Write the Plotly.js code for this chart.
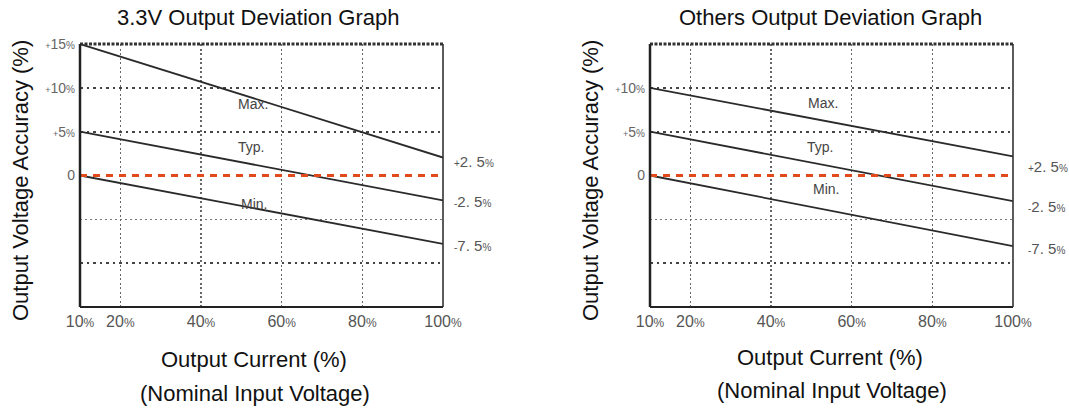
<!DOCTYPE html>
<html>
<head>
<meta charset="utf-8">
<script src="https://cdn.plot.ly/plotly-3.0.1.min.js"></script>
<style>html,body{margin:0;padding:0;background:#fff;}#chart{width:1069px;height:410px;}</style>
</head>
<body>
<div id="chart"></div>
<script>
// ---- data ----
const loadPct = [10, 100];
const left_max = [15, 2.05];
const left_typ = [5, -2.85];
const left_min = [0, -7.8];
const right_max = [10, 2.17];
const right_typ = [5, -2.93];
const right_min = [0, -8.06];
const nominal = [0, 0];

const xTickVals = [10, 20, 40, 60, 80, 100];
const xTickNums = ['10', '20', '40', '60', '80', '100'];
const gridMajorVals = [10, 5, -10];
const gridMinorVals = [-5];
const gridMajorNums = ['+10', '+5', ''];
const leftExtraTickVals = [15, 0];
const leftExtraTickNums = ['+15', '0'];
const rightExtraTickVals = [0];
const rightExtraTickNums = ['0'];
const endLabels = ['+2. 5', '-2. 5', '-7. 5'];
const curveNames = ['Max.', 'Typ.', 'Min.'];
const titles = ['3.3V Output Deviation Graph', 'Others Output Deviation Graph'];
const yTitle = 'Output Voltage Accuracy (%)';
const xTitle1 = 'Output Current (%)';
const xTitle2 = '(Nominal Input Voltage)';

// ---- helpers ----
const W = 1069, H = 410;
const SANS = '"Liberation Sans", Arial, Helvetica, sans-serif';
const px = v => v / W;
const py = v => 1 - v / H;

function pctTick(t) {
  return t + "<span style='font-size:12px'>%</span>";
}
function yTick(t) {
  if (t === '0' || t === '') return t;
  return "<span style='font-size:9px'>+</span>" + t.slice(1) + "<span style='font-size:10px'>%</span>";
}
function endTick(t) {
  const sign = t[0];
  return "<span style='font-size:10px'>" + sign + "</span>" + t.slice(1) + "<span style='font-size:10px'>%</span>";
}

const lineStyle = {color: '#2a2a2a', width: 1.8};
function seriesTraces(xa, ya, yNom, maxS, typS, minS) {
  return [
    {x: loadPct, y: maxS, xaxis: xa, yaxis: ya, mode: 'lines', line: lineStyle, name: 'Max.', showlegend: false},
    {x: loadPct, y: typS, xaxis: xa, yaxis: ya, mode: 'lines', line: lineStyle, name: 'Typ.', showlegend: false},
    {x: loadPct, y: minS, xaxis: xa, yaxis: ya, mode: 'lines', line: lineStyle, name: 'Min.', showlegend: false},
    {x: loadPct, y: nominal, xaxis: xa, yaxis: yNom, mode: 'lines', line: {color: '#e2491b', width: 3, dash: '7px,6px'}, hoverinfo: 'skip', showlegend: false}
  ];
}

const data = [].concat(
  seriesTraces('x', 'y', 'y3', left_max, left_typ, left_min),
  seriesTraces('x2', 'y2', 'y4', right_max, right_typ, right_min)
);

const yDom = [1 - 307 / H, 1 - 44 / H];
const yTickFont = {family: SANS, size: 14, color: '#666'};
function xAxis(dom, anchor) {
  return {
    domain: dom, range: [10, 100], fixedrange: true, anchor: anchor,
    tickmode: 'array', tickvals: xTickVals, ticktext: xTickNums.map(pctTick),
    tickfont: {family: SANS, size: 16, color: '#555'},
    ticks: '', ticklabelstandoff: 3,
    showgrid: true, griddash: '2px,2.5px', gridcolor: '#666', gridwidth: 1.1,
    zeroline: false, showline: false
  };
}
function yAxisMain(anchor) {
  return {
    domain: yDom, range: [-15, 15], anchor: anchor, fixedrange: true,
    tickmode: 'array', tickvals: gridMajorVals, ticktext: gridMajorNums.map(yTick),
    tickfont: yTickFont, ticks: '', ticklabelstandoff: 4,
    showgrid: true, griddash: '2.5px,4px', gridwidth: 2, gridcolor: '#444',
    minor: {tickmode: 'array', tickvals: gridMinorVals, showgrid: true, griddash: '2px,3px', gridwidth: 1, gridcolor: '#777', ticks: ''},
    zeroline: false, showline: false
  };
}
function yAxisExtra(over, anchor, vals, nums) {
  return {
    overlaying: over, anchor: anchor, side: 'left', range: [-15, 15], fixedrange: true,
    tickmode: 'array', tickvals: vals, ticktext: nums.map(yTick),
    tickfont: yTickFont, ticks: '', ticklabelstandoff: 4,
    showgrid: false, zeroline: false, showline: false
  };
}

function frame(xr, yr) {
  const xd = xr + ' domain', yd = yr + ' domain';
  return [
    {type: 'line', xref: xd, yref: yd, x0: 0, x1: 1, y0: 1, y1: 1, line: {color: '#333', width: 3, dash: '3px,1.5px'}},
    {type: 'line', xref: xd, yref: yd, x0: 0, x1: 0, y0: 0, y1: 1, line: {color: '#222', width: 2.5}},
    {type: 'line', xref: xd, yref: yd, x0: 0, x1: 1, y0: 0, y1: 0, line: {color: '#222', width: 2}},
    {type: 'line', xref: xd, yref: yd, x0: 1, x1: 1, y0: 0, y1: 1, line: {color: '#333', width: 1.6}}
  ];
}

const bigFont = {family: SANS, size: 22, color: '#111'};
const annotations = [];
function paperText(text, x, y, font, angle) {
  const a = {text: text, xref: 'paper', yref: 'paper', x: px(x), y: py(y), xanchor: 'center', yanchor: 'middle', showarrow: false, font: font};
  if (angle) a.textangle = angle;
  annotations.push(a);
}
// chart titles
paperText(titles[0], 258, 17, bigFont);
paperText(titles[1], 830, 17, bigFont);
// y titles
paperText(yTitle, 21, 181, bigFont, -90);
paperText(yTitle, 591, 181, bigFont, -90);
// x titles
paperText(xTitle1, 254, 359, bigFont);
paperText(xTitle2, 255, 393, bigFont);
paperText(xTitle1, 830, 357, bigFont);
paperText(xTitle2, 832, 390, bigFont);

// curve names
const curveFont = {family: SANS, size: 14, color: '#444'};
function curveLabel(xr, yr, t, x, y) {
  annotations.push({text: t, xref: xr, yref: yr, x: x, y: y, showarrow: false, font: curveFont, xanchor: 'center', yanchor: 'middle'});
}
curveLabel('x', 'y', curveNames[0], 53, 8.2);
curveLabel('x', 'y', curveNames[1], 52.4, 3.2);
curveLabel('x', 'y', curveNames[2], 53.2, -3.2);
curveLabel('x2', 'y2', curveNames[0], 52.9, 8.3);
curveLabel('x2', 'y2', curveNames[1], 52.2, 3.3);
curveLabel('x2', 'y2', curveNames[2], 53.7, -1.5);

// end labels next to line ends
const endFont = {family: SANS, size: 15, color: '#555'};
function endLabel(xr, yr, t, yv, xs, ys) {
  annotations.push({text: endTick(t), xref: xr, yref: yr, x: 100, y: yv, xshift: xs, yshift: ys, showarrow: false, font: endFont, xanchor: 'left', yanchor: 'middle'});
}
const lEnds = [left_max[1], left_typ[1], left_min[1]];
const rEnds = [right_max[1], right_typ[1], right_min[1]];
const lShift = [-4, -1, -2];
const rShift = [-10, -5, -2];
for (let i = 0; i < 3; i++) {
  endLabel('x', 'y', endLabels[i], lEnds[i], 9, lShift[i]);
  endLabel('x2', 'y2', endLabels[i], rEnds[i], 13, rShift[i]);
}

const layout = {
  width: W, height: H,
  margin: {l: 0, r: 0, t: 0, b: 0},
  paper_bgcolor: '#fff', plot_bgcolor: 'rgba(0,0,0,0)',
  showlegend: false,
  xaxis: xAxis([80 / W, 443 / W], 'y'),
  xaxis2: xAxis([650 / W, 1013 / W], 'y2'),
  yaxis: yAxisMain('x'),
  yaxis2: yAxisMain('x2'),
  yaxis3: yAxisExtra('y', 'x', leftExtraTickVals, leftExtraTickNums),
  yaxis4: yAxisExtra('y2', 'x2', rightExtraTickVals, rightExtraTickNums),
  shapes: frame('x', 'y').concat(frame('x2', 'y2')),
  annotations: annotations
};

Plotly.newPlot('chart', data, layout, {staticPlot: true, displayModeBar: false});
</script>
</body>
</html>
